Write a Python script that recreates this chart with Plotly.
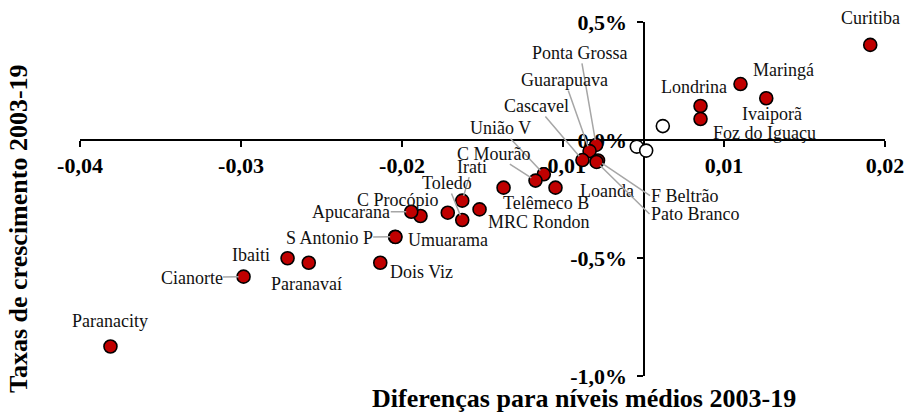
import plotly.graph_objects as go

# ---------------- data ----------------
cities = [
    "Curitiba", "Maringá", "Ivaiporã", "Londrina", "Foz do Iguaçu",
    "Ponta Grossa", "Guarapuava", "Cascavel", "Loanda", "F Beltrão", "Pato Branco",
    "União V", "C Mourão", "Telêmeco B", "", "Irati", "MRC Rondon", "",
    "Toledo", "C Procópio", "Apucarana", "S Antonio P", "Umuarama",
    "Dois Viz", "Ibaiti", "Paranavaí", "Cianorte", "Paranacity",
]
x_diff = [
    0.01690, 0.00723, 0.00915, 0.00425, 0.00425,
    -0.00353, -0.00402, -0.00455, -0.00347, -0.00339, -0.00350,
    -0.00743, -0.00805, -0.00656, -0.01043, -0.01351, -0.01222, -0.01459,
    -0.01351, -0.01662, -0.01731, -0.01851, -0.01849,
    -0.01962, -0.02653, -0.02495, -0.02981, -0.03973,
]
y_growth = [
    0.00403, 0.00237, 0.00177, 0.00144, 0.00089,
    -0.00021, -0.00047, -0.00085, -0.00091, -0.00087, -0.00093,
    -0.00145, -0.00172, -0.00202, -0.00202, -0.00257, -0.00294, -0.00308,
    -0.00339, -0.00322, -0.00304, -0.00410, -0.00411,
    -0.00520, -0.00501, -0.00520, -0.00579, -0.00875,
]
# hollow (unlabelled) points
other_x = [0.00144, -0.00050, 0.00020]
other_y = [0.00059, -0.00028, -0.00045]

x_tick_values = [-0.042, -0.030, -0.018, -0.006, 0.006, 0.018]
x_tick_labels = ["-0,04", "-0,03", "-0,02", "-0,01", "0,01", "0,02"]
y_tick_values = [0.005, 0.0, -0.005, -0.010]
y_tick_labels = ["0,5%", "0,0%", "-0,5%", "-1,0%"]

x_title = "Diferenças para níveis médios 2003-19"
y_title = "Taxas de crescimento 2003-19"

# ---------------- label placement (pixels, styling only) ----------------
# ("text", xshift, yshift)  or  ("arrow", ax, ay, xanchor)
label_place = {
    "Curitiba": ("text", 0, 27),
    "Maringá": ("text", 43, 14),
    "Ivaiporã": ("text", 6, -16),
    "Londrina": ("text", -7, 19),
    "Foz do Iguaçu": ("text", 64, -14),
    "Ponta Grossa": ("arrow", -16, -92, "center"),
    "Guarapuava": ("arrow", -25, -71, "center"),
    "Cascavel": ("arrow", -46, -54, "center"),
    "Loanda": ("text", 10, -30),
    "F Beltrão": ("arrow", 52, 35, "left"),
    "Pato Branco": ("arrow", 53, 52, "left"),
    "União V": ("arrow", -43, -46, "center"),
    "C Mourão": ("arrow", -42, -27, "center"),
    "Telêmeco B": ("text", -9, -15),
    "Irati": ("arrow", 10, -34, "center"),
    "MRC Rondon": ("text", 59, -13),
    "Toledo": ("arrow", -15, -37, "center"),
    "C Procópio": ("text", -23, 16),
    "Apucarana": ("arrow", -60, 0, "center"),
    "S Antonio P": ("arrow", -66, 1, "center"),
    "Umuarama": ("text", 53, -3),
    "Dois Viz": ("text", 41, -9),
    "Ibaiti": ("text", -37, 3),
    "Paranavaí": ("text", -2, -21),
    "Cianorte": ("arrow", -52, 1, "center"),
    "Paranacity": ("text", 0, 26),
}

SERIF = "Liberation Serif, Times New Roman, serif"
LABEL_FONT = dict(family=SERIF, size=18, color="#111111")
LEADER = "#a6a6a6"

fig = go.Figure()
fig.add_trace(go.Scatter(
    x=other_x, y=other_y, mode="markers",
    marker=dict(size=13, color="white", line=dict(color="black", width=1.6)),
    hoverinfo="skip", cliponaxis=False,
))
fig.add_trace(go.Scatter(
    x=x_diff, y=y_growth, mode="markers", text=cities,
    marker=dict(size=13, color="#c00000", line=dict(color="black", width=1.6)),
    cliponaxis=False,
))

annotations = []
for name, xv, yv in zip(cities, x_diff, y_growth):
    if not name or name not in label_place:
        continue
    p = label_place[name]
    if p[0] == "text":
        annotations.append(dict(
            x=xv, y=yv, xref="x", yref="y", text=name, showarrow=False,
            xshift=p[1], yshift=p[2], font=LABEL_FONT,
        ))
    else:
        annotations.append(dict(
            x=xv, y=yv, xref="x", yref="y", text=name, showarrow=True,
            ax=p[1], ay=p[2], xanchor=p[3], arrowhead=0, arrowwidth=1.5,
            arrowcolor=LEADER, standoff=5, font=LABEL_FONT, borderpad=0,
        ))

W, H = 910, 413
ML, MR, MT, MB = 80, 25, 22, 37

def paper_x(px):
    return (px - ML) / (W - ML - MR)

def paper_y(py):
    return (H - py - MB) / (H - MT - MB)

annotations.append(dict(
    x=paper_x(584), y=paper_y(398), xref="paper", yref="paper",
    xanchor="center", yanchor="middle", text=f"<b>{x_title}</b>",
    showarrow=False, font=dict(family=SERIF, size=26, color="black"),
))
annotations.append(dict(
    x=paper_x(18), y=paper_y(229), xref="paper", yref="paper",
    xanchor="center", yanchor="middle", text=f"<b>{y_title}</b>",
    showarrow=False, textangle=-90, font=dict(family=SERIF, size=26, color="black"),
))

x_range = [x_tick_values[0], x_tick_values[-1]]
y_range = [y_tick_values[-1], y_tick_values[0]]

fig.update_layout(
    width=W, height=H,
    margin=dict(l=ML, r=MR, t=MT, b=MB, autoexpand=False),
    paper_bgcolor="white", plot_bgcolor="white",
    showlegend=False,
    annotations=annotations,
    xaxis=dict(
        range=x_range, anchor="free", automargin=False,
        position=(0 - y_range[0]) / (y_range[1] - y_range[0]),
        tickvals=x_tick_values, ticktext=x_tick_labels,
        ticks="outside", ticklen=6, tickwidth=1.5, tickcolor="black",
        showline=True, linecolor="black", linewidth=2,
        showgrid=False, zeroline=False, layer="below traces",
        tickfont=dict(family=SERIF, size=22, color="black", weight="bold"),
        ticklabelstandoff=0,
    ),
    yaxis=dict(
        range=y_range, anchor="free", automargin=False,
        position=(0 - x_range[0]) / (x_range[1] - x_range[0]),
        tickvals=y_tick_values, ticktext=y_tick_labels,
        ticks="outside", ticklen=6, tickwidth=1.5, tickcolor="black",
        showline=True, linecolor="black", linewidth=2,
        showgrid=False, zeroline=False, layer="below traces",
        tickfont=dict(family=SERIF, size=22, color="black", weight="bold"),
        ticklabelstandoff=5,
    ),
)

fig.write_html(
    "out.html",
    config={"displayModeBar": False},
    post_script="document.body.style.margin='0';document.body.style.overflow='hidden';",
)
